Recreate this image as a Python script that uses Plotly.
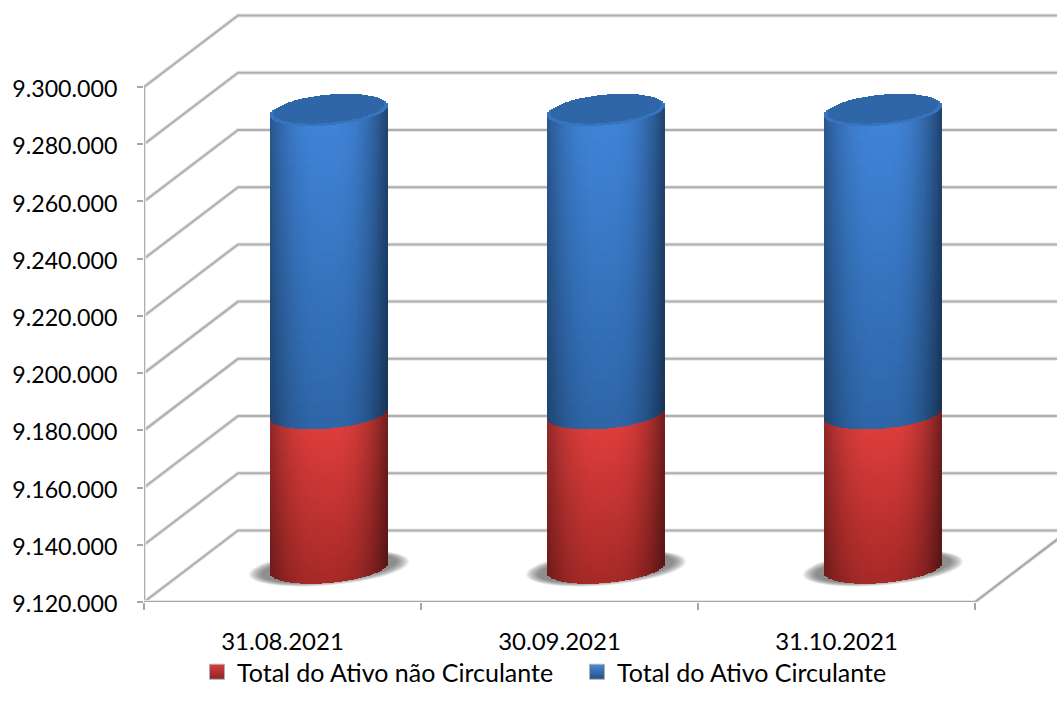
import numpy as np
import plotly.graph_objects as go

# ---- data ----
categories = ["31.08.2021", "30.09.2021", "31.10.2021"]
nao_circulante_top = [9174000, 9174000, 9174000]
circulante_increment = [106000, 106000, 106000]
y_ticks = [9120000, 9140000, 9160000, 9180000, 9200000, 9220000, 9240000, 9260000, 9280000, 9300000]
name_red = "Total do Ativo não Circulante"
name_blue = "Total do Ativo Circulante"

# ---- pixel frame used only to express the fake 3D look in axis units ----
PX_LEFT, PX_BOTTOM, PX_TOP = 144, 602, 10
W, H = 1057, 709
unit_x = 277.0            # px per category
unit_y = 515.0 / 180000   # px per value
dx = lambda px: px / unit_x
dy = lambda px: px / unit_y
Y0 = y_ticks[0]
y_range = [Y0, Y0 + dy(PX_BOTTOM - PX_TOP)]
x_range = [-0.5, -0.5 + (W - PX_LEFT) / unit_x]
depth_x, depth_y = dx(94), dy(71.5)
cyl_x, cyl_y = dx(46.5), dy(34)
a, b, shear = dx(58.5), dy(15), dy(5)

fig = go.Figure()
GRID = "#afafaf"

def line(xs, ys, color=GRID, width=2.0):
    fig.add_trace(go.Scatter(x=xs, y=ys, mode="lines", line=dict(color=color, width=width),
                             hoverinfo="skip", showlegend=False, cliponaxis=False))

xl, xr = -0.5, 2.5
for v in y_ticks:
    line([xl, xl + depth_x, x_range[1] + 1], [v, v + depth_y, v + depth_y], "#e6e6e6", 4)
    line([xl, xl + depth_x, x_range[1] + 1], [v, v + depth_y, v + depth_y])
line([xl, xl], [y_ticks[0], y_ticks[-1]], "#e6e6e6", 4)
line([xl, xl], [y_ticks[0], y_ticks[-1]])
line([xl, xr, xr + depth_x], [Y0, Y0, Y0 + depth_y], "#e6e6e6", 4)
line([xl, xr, xr + depth_x], [Y0, Y0, Y0 + depth_y], "#a6a6a6", 2.0)

# floor shadows
t = np.linspace(0, 2 * np.pi, 73)
for i in range(3):
    cx, cy = i + cyl_x, Y0 + cyl_y
    for k in range(10):
        sa = a * (1.37 - 0.024 * k)
        sb = b * (1.16 - 0.03 * k)
        xs = cx + sa * np.cos(t)
        ys = cy + shear * 1.3 * np.cos(t) + sb * np.sin(t)
        fig.add_trace(go.Scatter(x=xs, y=ys, mode="lines", fill="toself", line=dict(width=0),
                                 fillcolor="rgba(70,70,70,0.085)", hoverinfo="skip", showlegend=False))

# cylinders, built from thin shaded bars on an overlay axis pair
N_SLICES = 59
N_BANDS = 24
u = (np.arange(N_SLICES) + 0.5) / N_SLICES * 2 - 1
slice_w = 2 * a / N_SLICES * 1.25

def shade(top, bottom, uu, v, left=0.62, right=0.55):
    col = np.array(top) * (1 - v) + np.array(bottom) * v
    e = np.abs(uu + 0.03) ** 2.6
    edge = left if uu < 0 else right
    col = col * (1 - (1 - edge) * e)
    return "rgb(%d,%d,%d)" % tuple(np.clip(col, 0, 255))

def body(cx, low, high, top_col, bot_col):
    xs, bases, hs, cols = [], [], [], []
    edges = np.linspace(low, high, N_BANDS + 1)
    for uu in u:
        off = -shear * uu + b * np.sqrt(1 - uu ** 2)
        for j in range(N_BANDS):
            v = 1 - (j + 0.5) / N_BANDS
            xs.append(cx + a * uu)
            bases.append(edges[j] - off)
            hs.append(edges[j + 1] - edges[j] + dy(0.6))
            cols.append(shade(top_col, bot_col, uu, v))
    fig.add_trace(go.Bar(x=xs, y=hs, base=bases, width=slice_w, marker=dict(color=cols, line=dict(width=0)),
                         xaxis="x2", yaxis="y2", hoverinfo="skip", showlegend=False))

def cap(cx, level, scale, color, yshift=0.0):
    xs, bases, hs = [], [], []
    for uu in u:
        if abs(uu) >= scale:
            continue
        r = np.sqrt(1 - (uu / scale) ** 2)
        centre = level + yshift
        lo = centre + shear * uu - b * scale * r
        hi = centre + shear * uu + b * scale * r
        xs.append(cx + a * uu)
        bases.append(lo)
        hs.append(hi - lo)
    fig.add_trace(go.Bar(x=xs, y=hs, base=bases, width=slice_w, marker=dict(color=color, line=dict(width=0)),
                         xaxis="x2", yaxis="y2", hoverinfo="skip", showlegend=False))

RED_T, RED_B = (222, 62, 60), (166, 42, 40)
BLUE_T, BLUE_B = (64, 132, 216), (46, 102, 168)

for i in range(3):
    cx = i + cyl_x
    bottom = Y0 + cyl_y
    mid = nao_circulante_top[i] + cyl_y
    top = mid + circulante_increment[i]
    body(cx, bottom, mid, RED_T, RED_B)
    body(cx, mid, top, BLUE_T, BLUE_B)
    cap(cx, top, 1.0, "#3674bf")
    cap(cx, top, 0.94, "#2f66a8", dy(1.5))

# legend entries
fig.add_trace(go.Scatter(x=[None], y=[None], mode="markers", name=name_red,
                         marker=dict(symbol="square", size=15, color="#d84040",
                                     gradient=dict(type="vertical", color="#8a2422"),
                                     line=dict(color="#b0b0b0", width=1))))
fig.add_trace(go.Scatter(x=[None], y=[None], mode="markers", name=name_blue,
                         marker=dict(symbol="square", size=15, color="#4a8ad8",
                                     gradient=dict(type="vertical", color="#234f85"),
                                     line=dict(color="#b0b0b0", width=1))))

X_FONT = dict(family="Lato", size=24, color="#000000")
Y_FONT = dict(family="Lato", size=23.2, color="#000000")
LEG_FONT = dict(family="Lato", size=25, color="#000000")
NONE = "rgba(0,0,0,0)"
plot_w, plot_h = W - PX_LEFT, PX_BOTTOM - PX_TOP
fig.update_layout(
    width=W, height=H, autosize=False,
    margin=dict(l=PX_LEFT, r=0, t=PX_TOP, b=H - PX_BOTTOM),
    paper_bgcolor="white", plot_bgcolor="white", barmode="overlay", bargap=0,
    xaxis=dict(range=x_range, tickmode="array", tickvals=[-0.5, 0.5, 1.5, 2.5], ticktext=["", "", "", ""],
               ticks="outside", ticklen=7, tickwidth=2, tickcolor="#a6a6a6", showgrid=False, zeroline=False,
               showline=False),
    yaxis=dict(range=y_range, tickmode="array", tickvals=y_ticks, ticktext=[""] * len(y_ticks),
               ticks="outside", ticklen=6, tickwidth=2, tickcolor="#a6a6a6", showgrid=False, zeroline=False,
               showline=False),
    xaxis2=dict(range=x_range, overlaying="x", anchor="y2", side="bottom", tickmode="array",
                tickvals=[0, 1, 2], ticktext=categories, ticks="outside", ticklen=18, tickcolor=NONE,
                showgrid=False, zeroline=False, showline=False, tickfont=X_FONT),
    yaxis2=dict(range=y_range, overlaying="y", anchor="x2", side="left", tickmode="array", tickvals=y_ticks,
                ticktext=[f"{v:,}".replace(",", ".") for v in y_ticks], ticks="outside", ticklen=21,
                ticklabelshift=2, tickcolor=NONE, showgrid=False, zeroline=False, showline=False,
                tickfont=Y_FONT),
    legend=dict(orientation="h", x=(197 - PX_LEFT) / plot_w, xanchor="left", y=-70 / plot_h, yanchor="middle",
                font=LEG_FONT, itemsizing="trace", bgcolor=NONE,
                entrywidth=335, entrywidthmode="pixels"),
)
fig.write_html("out.html", post_script="document.body.style.margin='0';",
               config=dict(displayModeBar=False))
